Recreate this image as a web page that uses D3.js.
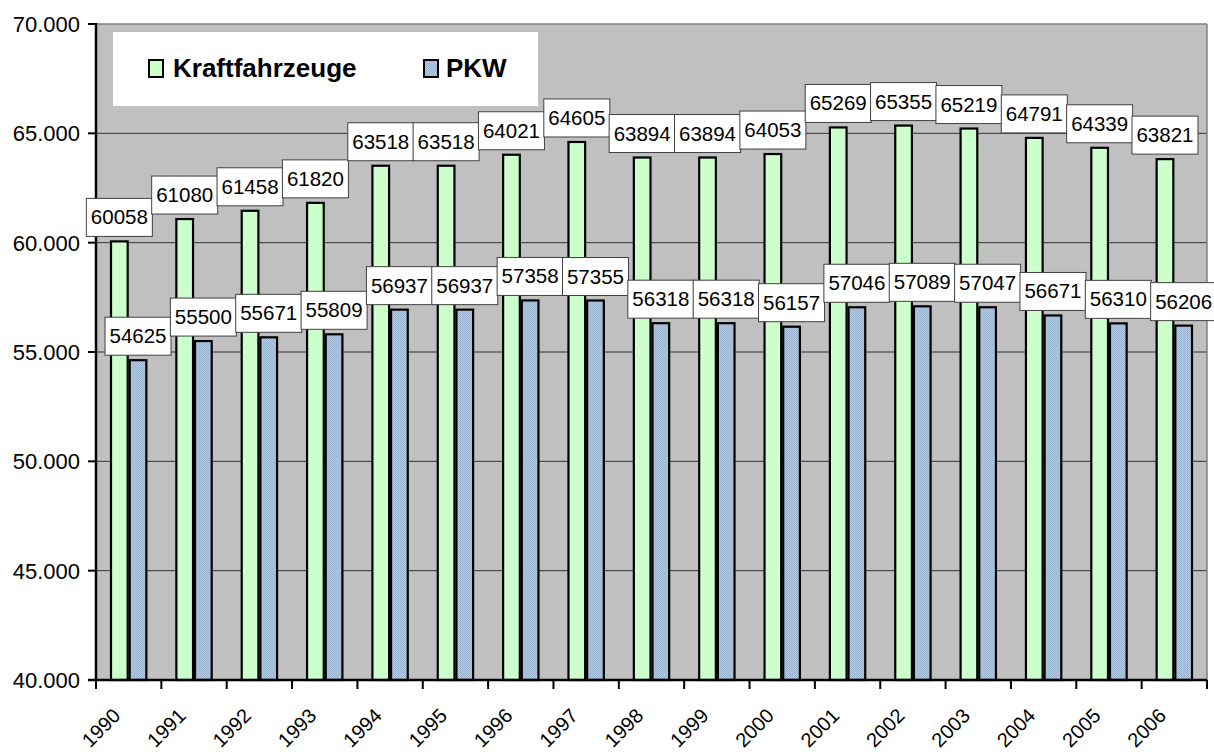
<!DOCTYPE html>
<html>
<head>
<meta charset="utf-8">
<script src="https://cdn.jsdelivr.net/npm/d3@7"></script>
<style>
  html, body { margin: 0; padding: 0; background: #ffffff; }
  svg { display: block; font-family: "Liberation Sans", Arial, sans-serif; }
</style>
</head>
<body>
<svg id="chart" width="1214" height="755"></svg>
<script>
const years = ["1990","1991","1992","1993","1994","1995","1996","1997","1998","1999","2000","2001","2002","2003","2004","2005","2006"];
const kraftfahrzeuge = [60058,61080,61458,61820,63518,63518,64021,64605,63894,63894,64053,65269,65355,65219,64791,64339,63821];
const pkw = [54625,55500,55671,55809,56937,56937,57358,57355,56318,56318,56157,57046,57089,57047,56671,56310,56206];
const seriesNames = ["Kraftfahrzeuge", "PKW"];
const yTicks = [40000, 45000, 50000, 55000, 60000, 65000, 70000];

const svg = d3.select("#chart");
const plot = { left: 96, right: 1207, top: 24, bottom: 680 };

const de = d3.formatLocale({ decimal: ",", thousands: ".", grouping: [3], currency: ["", " €"] });
const fmt = de.format(",d");

const x = d3.scaleBand().domain(years).range([plot.left, plot.right]).padding(0);
const xs = d3.scaleBand().domain(seriesNames).range([0, x.bandwidth()]).paddingInner(0).paddingOuter(0.75);
const y = d3.scaleLinear().domain([40000, 70000]).range([plot.bottom, plot.top]);

const series = [
  { name: seriesNames[0], values: kraftfahrzeuge, fill: "#ccffcc" },
  { name: seriesNames[1], values: pkw, fill: "url(#bluePat)" }
];

// pattern for blue series
const defs = svg.append("defs");
const pat = defs.append("pattern").attr("id", "bluePat").attr("patternUnits", "userSpaceOnUse")
  .attr("width", 2).attr("height", 2);
pat.append("rect").attr("width", 2).attr("height", 2).attr("fill", "#b2c9e2");
pat.append("rect").attr("x", 0).attr("y", 0).attr("width", 1).attr("height", 1).attr("fill", "#9bb5d0");
pat.append("rect").attr("x", 1).attr("y", 1).attr("width", 1).attr("height", 1).attr("fill", "#9bb5d0");

// plot background
svg.append("rect").attr("x", plot.left).attr("y", plot.top)
  .attr("width", plot.right - plot.left).attr("height", plot.bottom - plot.top)
  .attr("fill", "#c0c0c0");

// gridlines
svg.append("g").selectAll("line").data(yTicks.filter(d => d > 40000 && d < 70000)).join("line")
  .attr("x1", plot.left).attr("x2", plot.right)
  .attr("y1", d => y(d)).attr("y2", d => y(d))
  .attr("stroke", "#333333").attr("stroke-width", 1);

// plot border top/right
svg.append("line").attr("x1", plot.left).attr("x2", plot.right).attr("y1", plot.top).attr("y2", plot.top)
  .attr("stroke", "#808080").attr("stroke-width", 1.5);
svg.append("line").attr("x1", plot.right).attr("x2", plot.right).attr("y1", plot.top).attr("y2", plot.bottom)
  .attr("stroke", "#808080").attr("stroke-width", 1.5);

// bars
series.forEach(s => {
  svg.append("g").selectAll("rect").data(s.values).join("rect")
    .attr("x", (d, i) => x(years[i]) + xs(s.name) + 1)
    .attr("y", d => y(d))
    .attr("width", xs.bandwidth() - 2)
    .attr("height", d => plot.bottom - y(d))
    .attr("fill", s.fill)
    .attr("stroke", "#000").attr("stroke-width", 2.2);
});

// y axis
const yAxis = svg.append("g");
yAxis.append("line").attr("x1", plot.left).attr("x2", plot.left).attr("y1", plot.top - 1).attr("y2", plot.bottom + 1)
  .attr("stroke", "#000").attr("stroke-width", 2.5);
yAxis.selectAll("line.tick").data(yTicks).join("line").attr("class", "tick")
  .attr("x1", plot.left - 8).attr("x2", plot.left)
  .attr("y1", d => y(d)).attr("y2", d => y(d))
  .attr("stroke", "#000").attr("stroke-width", 2);
yAxis.selectAll("text").data(yTicks).join("text")
  .attr("x", 80).attr("y", d => y(d) + 8)
  .attr("text-anchor", "end").attr("font-size", 22).attr("fill", "#000")
  .text(d => fmt(d));

// x axis
const xAxis = svg.append("g");
xAxis.append("line").attr("x1", plot.left - 8).attr("x2", plot.right).attr("y1", plot.bottom).attr("y2", plot.bottom)
  .attr("stroke", "#000").attr("stroke-width", 2.5);
const boundaries = years.map(d => x(d)).concat([x(years[years.length - 1]) + x.bandwidth()]);
xAxis.selectAll("line.tick").data(boundaries).join("line").attr("class", "tick")
  .attr("x1", d => d).attr("x2", d => d)
  .attr("y1", plot.bottom).attr("y2", plot.bottom + 9)
  .attr("stroke", "#000").attr("stroke-width", 2);
xAxis.selectAll("text").data(years).join("text")
  .attr("transform", d => `translate(${x(d) + x.bandwidth() / 2 - 7},717) rotate(-45)`)
  .attr("text-anchor", "end").attr("font-size", 20).attr("fill", "#000")
  .text(d => d);

// legend
const lg = svg.append("g");
lg.append("rect").attr("x", 113).attr("y", 32).attr("width", 425).attr("height", 74).attr("fill", "#fff");
const legendItems = [
  { name: seriesNames[0], fill: "#ccffcc", sx: 149, tx: 173 },
  { name: seriesNames[1], fill: "url(#bluePat)", sx: 424, tx: 446 }
];
legendItems.forEach(it => {
  lg.append("rect").attr("x", it.sx).attr("y", 60).attr("width", 14).attr("height", 17)
    .attr("fill", it.fill).attr("stroke", "#000").attr("stroke-width", 2);
  lg.append("text").attr("x", it.tx).attr("y", 77).attr("font-size", 26).attr("font-weight", "bold")
    .attr("fill", "#000").text(it.name);
});

// data labels
series.forEach(s => {
  const g = svg.append("g");
  s.values.forEach((v, i) => {
    const cx = x(years[i]) + xs(s.name) + xs.bandwidth() / 2;
    const bottom = y(v) - 5;
    const lab = g.append("g");
    const rect = lab.append("rect");
    const t = lab.append("text").attr("x", cx).attr("y", bottom - 12)
      .attr("text-anchor", "middle").attr("font-size", 20.5).attr("fill", "#000").text(String(v));
    const w = t.node().getComputedTextLength() + 9;
    rect.attr("x", cx - w / 2).attr("y", bottom - 38).attr("width", w).attr("height", 38)
      .attr("fill", "#fff").attr("stroke", "#404040").attr("stroke-width", 1);
  });
});
</script>
</body>
</html>
